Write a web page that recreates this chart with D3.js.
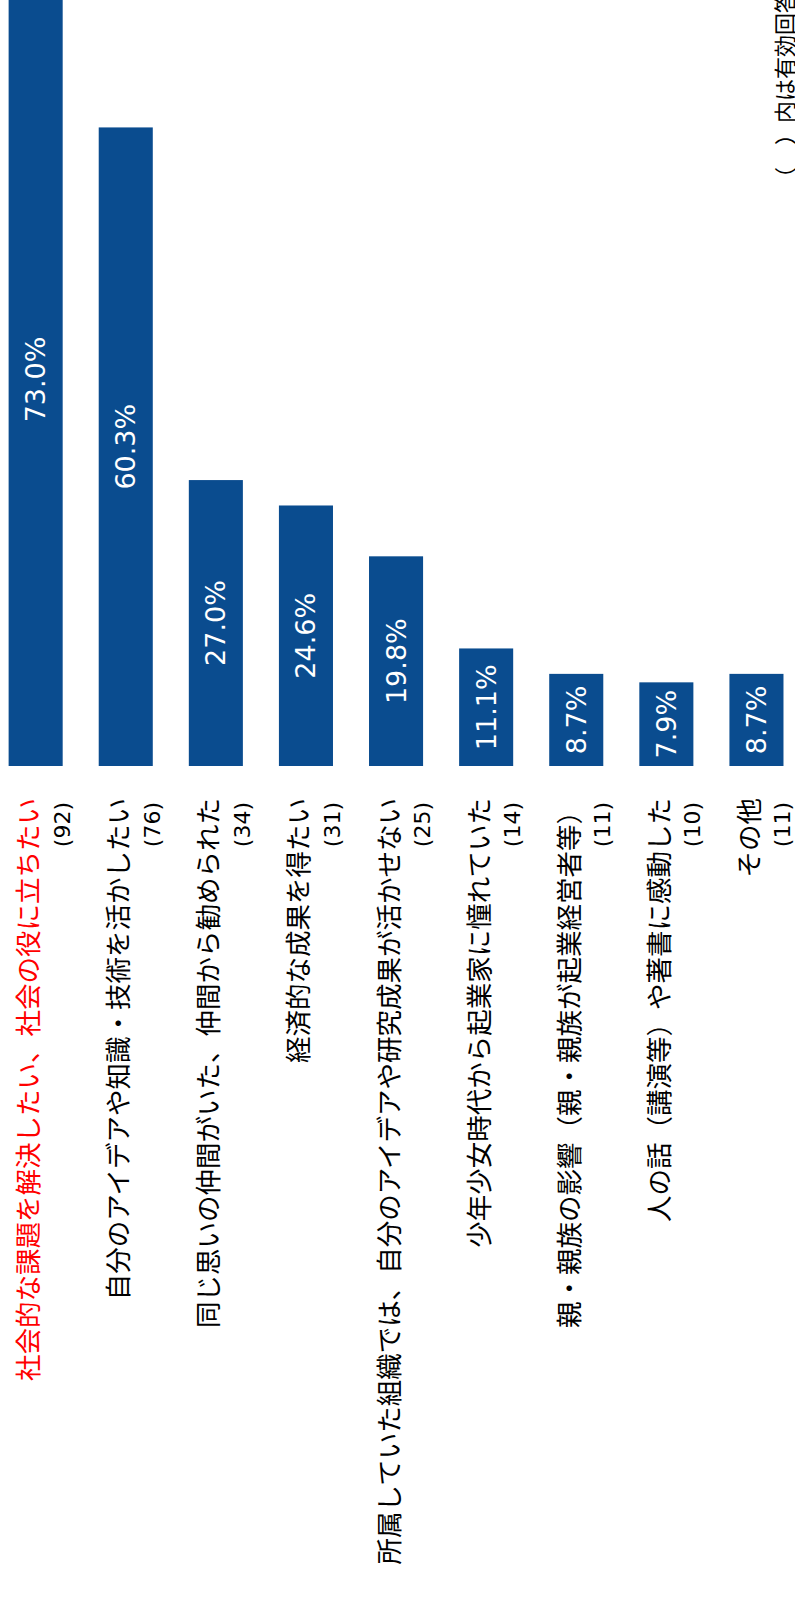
<!DOCTYPE html>
<html lang="ja">
<head>
<meta charset="utf-8">
<script src="https://cdn.jsdelivr.net/npm/d3@7"></script>
<style>
  html, body { margin: 0; padding: 0; background: #fff; }
  svg { display: block; }
</style>
</head>
<body>
<script>
// 起業の動機（複数回答）
const categories = [
  "社会的な課題を解決したい、社会の役に立ちたい",
  "自分のアイデアや知識・技術を活かしたい",
  "同じ思いの仲間がいた、仲間から勧められた",
  "経済的な成果を得たい",
  "所属していた組織では、自分のアイデアや研究成果が活かせない",
  "少年少女時代から起業家に憧れていた",
  "親・親族の影響（親・親族が起業経営者等）",
  "人の話（講演等）や著書に感動した",
  "その他"
];
const percents = [73.0, 60.3, 27.0, 24.6, 19.8, 11.1, 8.7, 7.9, 8.7];
const counts = [92, 76, 34, 31, 25, 14, 11, 10, 11];
const highlighted = ["社会的な課題を解決したい、社会の役に立ちたい"];
const note = "（　）内は有効回答数";

const W = 795, H = 1624;
const BAR = "#0a4c8f";

const svg = d3.select("body").append("svg")
  .attr("width", W).attr("height", H)
  .attr("viewBox", `0 0 ${W} ${H}`);

svg.append("rect").attr("width", W).attr("height", H).attr("fill", "#fff");

// The chart is laid out as a horizontal bar chart and then turned a quarter
// turn counter-clockwise, so the bars rise from the label column.
const g = svg.append("g").attr("transform", `translate(0,${H}) rotate(-90)`);

const baseX = 858;
const x = d3.scaleLinear().domain([0, 100]).range([baseX, baseX + 1059]);
const y = d3.scaleBand().domain(categories)
  .range([-9.4, 801.5]).paddingInner(0.4).paddingOuter(0.2);

const rows = categories.map((c, i) => ({ c, v: percents[i], n: counts[i] }));

g.selectAll("rect.bar").data(rows).join("rect")
  .attr("class", "bar")
  .attr("x", x(0))
  .attr("y", d => y(d.c))
  .attr("width", d => x(d.v) - x(0))
  .attr("height", y.bandwidth())
  .attr("fill", BAR);

// value labels centred in each bar
g.selectAll("text.val").data(rows).join("text")
  .attr("class", "val")
  .attr("x", d => (x(0) + x(d.v)) / 2)
  .attr("y", d => y(d.c) + y.bandwidth() / 2 + 9.5)
  .attr("text-anchor", "middle")
  .attr("font-family", "'DejaVu Sans', Verdana, sans-serif")
  .attr("font-size", 27)
  .attr("fill", "#fff")
  .text(d => d.v.toFixed(1) + "%");

// category labels, right-aligned against the bars
const labelX = baseX - 32;
g.selectAll("text.cat").data(rows).join("text")
  .attr("class", "cat")
  .attr("x", labelX)
  .attr("y", d => y(d.c) + y.bandwidth() / 2 + 2.5)
  .attr("text-anchor", "end")
  .attr("font-family", "'Noto Sans CJK JP', sans-serif")
  .attr("font-size", 26.5)
  .attr("fill", d => highlighted.includes(d.c) ? "#ff0000" : "#000")
  .text(d => d.c);

// respondent counts under each label
g.selectAll("text.cnt").data(rows).join("text")
  .attr("class", "cnt")
  .attr("x", labelX - 4)
  .attr("y", d => y(d.c) + y.bandwidth() / 2 + 34)
  .attr("text-anchor", "end")
  .attr("font-family", "'DejaVu Sans', Verdana, sans-serif")
  .attr("font-size", 22)
  .attr("fill", "#000")
  .text(d => `(${d.n})`);

// footnote
g.append("text")
  .attr("x", H - 189)
  .attr("y", 793)
  .attr("text-anchor", "start")
  .attr("font-family", "'Noto Sans CJK JP', sans-serif")
  .attr("font-size", 22)
  .attr("fill", "#000")
  .text(note);
</script>
</body>
</html>
